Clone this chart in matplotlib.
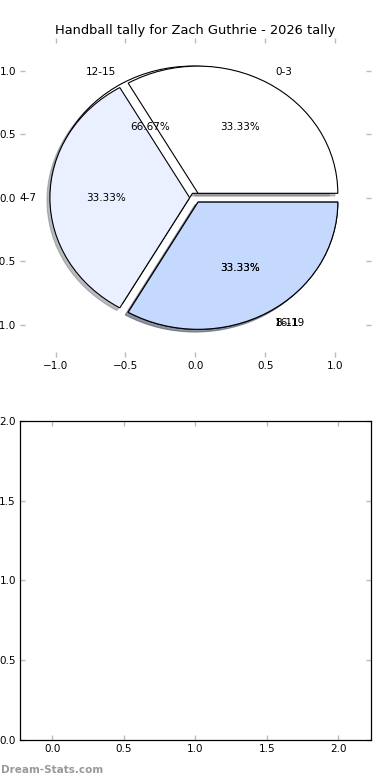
import matplotlib
matplotlib.use("Agg")
import matplotlib.pyplot as plt

# two groups drawn on the same axes, as in the original
labels_a = ["0-3", "4-7", "8-11"]
counts_a = [1, 1, 1]
labels_b = ["12-15", "16-19"]
counts_b = [2, 1]
colors = ["white", "#EAF0FF", "#C5D9FF"]

title = "Handball tally for Zach Guthrie - 2026 tally"
pie_ticks = [-1.0, -0.5, 0.0, 0.5, 1.0]
bar_xticks = [0.0, 0.5, 1.0, 1.5, 2.0]
bar_yticks = [0.0, 0.5, 1.0, 1.5, 2.0]

plt.rcParams["font.size"] = 7.5

fig, (ax1, ax2) = plt.subplots(2, 1, figsize=(3.9, 7.8), dpi=100)
fig.subplots_adjust(left=0.0513, right=0.95, bottom=0.0513, top=0.951, hspace=0.2)

wedge_style = {"edgecolor": "black", "linewidth": 0.8}
shadow_style = {"ox": -0.015, "oy": -0.015, "shade": 0.5}
ax1.pie(counts_b, labels=labels_b, colors=colors[:len(counts_b)],
        explode=[0.04] * len(counts_b), autopct="%1.2f%%", shadow=shadow_style,
        startangle=0, wedgeprops=wedge_style, textprops={"fontsize": 7.5})
ax1.pie(counts_a, labels=labels_a, colors=colors[:len(counts_a)],
        explode=[0.04] * len(counts_a), autopct="%1.2f%%", shadow=shadow_style,
        startangle=0, wedgeprops=wedge_style, textprops={"fontsize": 7.5})

ax1.set_aspect("auto")
ax1.set_xlim(-1.254, 1.254)
ax1.set_ylim(-1.254, 1.254)
ax1.set_xticks(pie_ticks)
ax1.set_yticks(pie_ticks)
ax1.set_title(title, fontsize=9.4, pad=3)

ax2.set_xlim(-0.225, 2.225)
ax2.set_ylim(0, 2)
ax2.set_xticks(bar_xticks)
ax2.set_yticks(bar_yticks)
for s in ax2.spines.values():
    s.set_linewidth(0.9)

for ax in (ax1, ax2):
    ax.tick_params(direction="in", length=3.5, width=1, color="#BBBBBB",
                   top=True, right=True, labelsize=7.5, pad=3)

fig.text(0.002, 0.006, "Dream-Stats.com", color="#999999", fontsize=7.5,
         fontweight="bold", ha="left", va="bottom")

fig.savefig("out.png")
